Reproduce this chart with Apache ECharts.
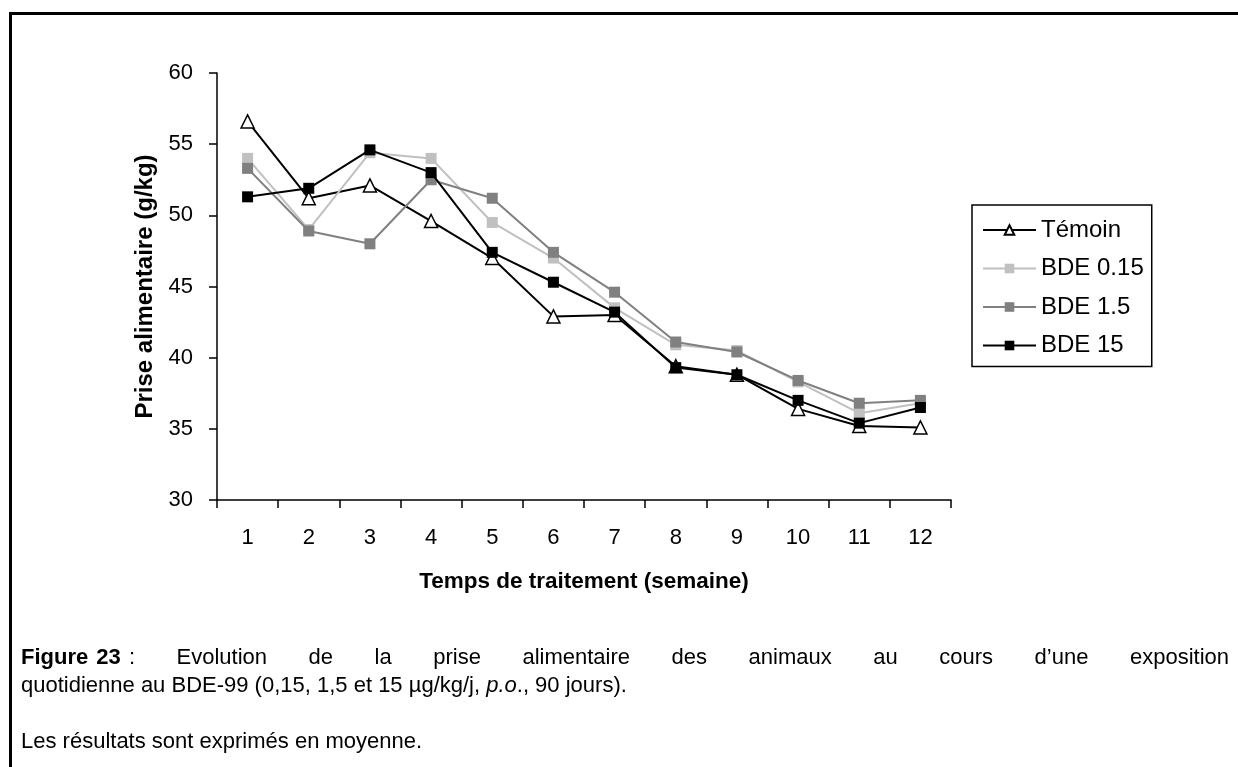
<!DOCTYPE html>
<html>
<head>
<meta charset="utf-8">
<script src="https://cdn.jsdelivr.net/npm/echarts@6/dist/echarts.min.js"></script>
<style>
html,body{margin:0;padding:0;background:#fff;}
#chart{width:1238px;height:767px;}
</style>
</head>
<body>
<div id="chart"></div>
<script>
// ---- data ----
const weeks = ['1','2','3','4','5','6','7','8','9','10','11','12'];
const temoin = [56.6, 51.2, 52.1, 49.6, 47.0, 42.9, 43.0, 39.4, 38.8, 36.4, 35.2, 35.1];
const bde015 = [54.0, 49.0, 54.4, 54.0, 49.5, 47.0, 43.5, 40.9, 40.5, 38.3, 36.1, 36.8];
const bde1_5 = [53.3, 48.9, 48.0, 52.5, 51.2, 47.4, 44.6, 41.1, 40.4, 38.4, 36.8, 37.0];
const bde15  = [51.3, 51.9, 54.6, 53.0, 47.4, 45.3, 43.2, 39.3, 38.8, 37.0, 35.4, 36.5];
const seriesNames = ['Témoin', 'BDE 0.15', 'BDE 1.5', 'BDE 15'];
const yTicks = { min: 30, max: 60, interval: 5 };
const xAxisTitle = 'Temps de traitement (semaine)';
const yAxisTitle = 'Prise alimentaire (g/kg)';
const captionLine1 = [
  {t:'Figure', b:true}, {t:'23', b:true, glue:true}, {t:':', glue:true},
  {t:'Evolution'}, {t:'de'}, {t:'la'}, {t:'prise'}, {t:'alimentaire'}, {t:'des'},
  {t:'animaux'}, {t:'au'}, {t:'cours'}, {t:'d\u2019une'}, {t:'exposition'}
];
const captionLine2 = 'quotidienne au BDE-99 (0,15, 1,5 et 15 µg/kg/j, ';
const captionLine2i = 'p.o';
const captionLine2e = '., 90 jours).';
const captionLine3 = 'Les résultats sont exprimés en moyenne.';

const FONT = '"Liberation Sans", Arial, Helvetica, sans-serif';
const chart = echarts.init(document.getElementById('chart'));

const cv = document.createElement('canvas').getContext('2d');
function measure(txt, size, bold, italic) {
  cv.font = (italic ? 'italic ' : '') + (bold ? 'bold ' : '') + size + 'px ' + FONT;
  return cv.measureText(txt).width;
}
const CAP = 22;
const graphics = [];
graphics.push({type:'line', shape:{x1:10.5, y1:13.5, x2:1238, y2:13.5}, style:{stroke:'#000', lineWidth:3}});
graphics.push({type:'line', shape:{x1:10.5, y1:12, x2:10.5, y2:767}, style:{stroke:'#000', lineWidth:3}});
(function(){
  const left = 21, right = 1229;
  const sp = measure(' ', CAP, false) + 2;
  const widths = captionLine1.map(w => measure(w.t, CAP, w.b));
  let total = 0, gaps = 0;
  captionLine1.forEach((w, i) => { total += widths[i]; if (i > 0) { if (w.glue) total += sp; else gaps++; } });
  const gap = (right - left - total) / gaps;
  let x = left;
  captionLine1.forEach((w, i) => {
    if (i > 0) x += w.glue ? sp : gap;
    graphics.push({type:'text', x: x, y: 658, style:{text:w.t, font:(w.b?'bold ':'') + CAP + 'px ' + FONT, fill:'#000', textVerticalAlign:'middle'}});
    x += widths[i];
  });
})();
(function(){
  let x = 21;
  const y2 = 686;
  graphics.push({type:'text', x:x, y:y2, style:{text:captionLine2, font:CAP+'px '+FONT, fill:'#000', textVerticalAlign:'middle'}});
  x += measure(captionLine2, CAP, false);
  graphics.push({type:'text', x:x, y:y2, style:{text:captionLine2i, font:'italic '+CAP+'px '+FONT, fill:'#000', textVerticalAlign:'middle'}});
  x += measure(captionLine2i, CAP, false, true);
  graphics.push({type:'text', x:x, y:y2, style:{text:captionLine2e, font:CAP+'px '+FONT, fill:'#000', textVerticalAlign:'middle'}});
  graphics.push({type:'text', x:21, y:742, style:{text:captionLine3, font:CAP+'px '+FONT, fill:'#000', textVerticalAlign:'middle'}});
})();

const lineColors = ['#000000', '#c0c0c0', '#808080', '#000000'];
const datas = [temoin, bde015, bde1_5, bde15];
const series = seriesNames.map((name, i) => ({
  name: name,
  type: 'line',
  data: datas[i],
  symbol: i === 0 ? 'triangle' : 'rect',
  symbolSize: i === 0 ? 13 : 11,
  lineStyle: { color: lineColors[i], width: 2 },
  itemStyle: i === 0 ? { color: '#ffffff', borderColor: '#000', borderWidth: 1.5 } : { color: lineColors[i], borderWidth: 0 },
  emphasis: { disabled: true },
  animation: false,
  z: 2 + i
}));

chart.setOption({
  backgroundColor: '#fff',
  animation: false,
  textStyle: { fontFamily: FONT },
  grid: { left: 217, right: 287, top: 73, bottom: 267, containLabel: false },
  legend: {
    orient: 'vertical',
    left: 972, top: 205,
    data: seriesNames,
    itemWidth: 53, itemHeight: 12, itemGap: 14.5,
    padding: [13, 8, 9, 10],
    borderColor: '#000', borderWidth: 1.5,
    textStyle: { fontSize: 24, color: '#000', fontFamily: FONT },
    selectedMode: false
  },
  xAxis: {
    type: 'category',
    data: weeks,
    boundaryGap: true,
    name: xAxisTitle,
    nameLocation: 'middle',
    nameGap: 70,
    nameTextStyle: { fontSize: 22.5, fontWeight: 'bold', color: '#000' },
    axisLine: { lineStyle: { color: '#000', width: 1.5 } },
    axisTick: { show: true, length: 8, inside: false, alignWithLabel: false, lineStyle: { color: '#000', width: 1.5 } },
    axisLabel: { fontSize: 22, color: '#000', margin: 27 },
    splitLine: { show: false }
  },
  yAxis: {
    type: 'value',
    min: yTicks.min, max: yTicks.max, interval: yTicks.interval,
    name: yAxisTitle,
    nameLocation: 'middle',
    nameGap: 60,
    nameRotate: 90,
    nameTextStyle: { fontSize: 24, fontWeight: 'bold', color: '#000' },
    axisLine: { show: true, lineStyle: { color: '#000', width: 1.5 } },
    axisTick: { show: true, length: 8, lineStyle: { color: '#000', width: 1.5 } },
    axisLabel: { fontSize: 22, color: '#000', margin: 24 },
    splitLine: { show: false }
  },
  series: series,
  graphic: graphics
});
</script>
</body>
</html>
